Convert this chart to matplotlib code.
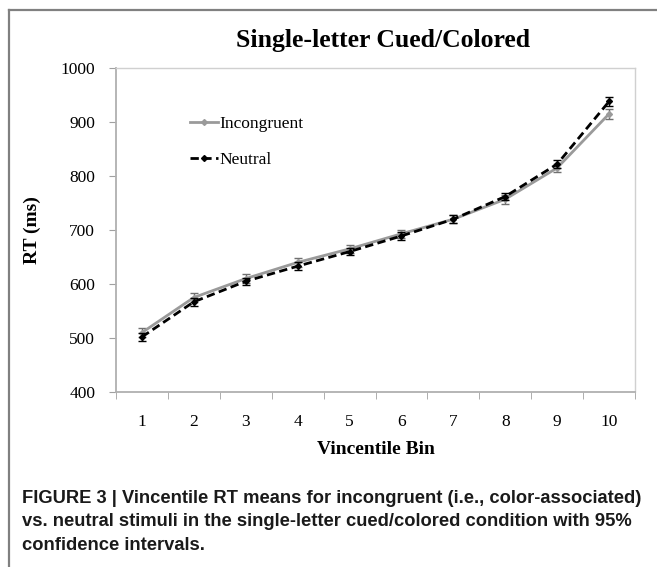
import matplotlib.pyplot as plt
from matplotlib.lines import Line2D

bins = [1, 2, 3, 4, 5, 6, 7, 8, 9, 10]
incongruent = [510, 575, 610, 640, 665, 693, 720, 757, 815, 915]
incongruent_ci = [8, 9, 8, 8, 8, 7, 7, 8, 8, 9]
neutral = [502, 567, 605, 633, 660, 689, 720, 762, 822, 938]
neutral_ci = [8, 8, 7, 7, 7, 7, 7, 7, 7, 8]
yticks = [400, 500, 600, 700, 800, 900, 1000]

W, H = 657, 567
fig = plt.figure(figsize=(W / 100, H / 100), dpi=100)
serif = 'Liberation Serif'

# outer frame of the screenshot (top and left only)
fig.add_artist(Line2D([9 / W, 1], [1 - 10 / H, 1 - 10 / H], color='#808080', lw=1.6))
fig.add_artist(Line2D([9 / W, 9 / W], [0, 1 - 10 / H], color='#808080', lw=1.6))

ax = fig.add_axes([116 / W, 175 / H, 519 / W, 324 / H])

inc_style = dict(color='#9a9a9a', lw=2, marker='D', ms=3)
neu_style = dict(color='black', lw=2, ls=(0, (3, 1.6)), marker='D', ms=3)

ax.errorbar(bins, incongruent, yerr=incongruent_ci, capsize=3, elinewidth=1,
            capthick=1, ecolor='#707070', zorder=2, **inc_style)
ax.errorbar(bins, neutral, yerr=neutral_ci, capsize=3, elinewidth=1,
            capthick=1, ecolor='black', zorder=3, **neu_style)

ax.set_xlim(0.5, 10.5)
ax.set_ylim(400, 1000)
ax.set_yticks(yticks)
ax.set_xticks(bins)
ax.set_xticks([b + 0.5 for b in [0] + bins], minor=True)
ax.tick_params(axis='x', which='major', length=0, pad=16)
ax.tick_params(axis='x', which='minor', length=5, color='#a0a0a0', direction='out')
ax.tick_params(axis='y', length=5, color='#a0a0a0', pad=10)
for lab in ax.get_xticklabels() + ax.get_yticklabels():
    lab.set_fontfamily(serif)
    lab.set_fontsize(12.5)
for s in ax.spines.values():
    s.set_color('#b0b0b0')
    s.set_linewidth(1.3)
for s in ['top', 'right']:
    ax.spines[s].set_color('#d0d0d0')
    ax.spines[s].set_linewidth(1.0)

ax.set_xlabel('Vincentile Bin', fontfamily=serif, fontweight='bold', fontsize=14, labelpad=8)
ax.set_ylabel('RT (ms)', fontfamily=serif, fontweight='bold', fontsize=14, labelpad=14)

fig.text(383 / W, 1 - 41 / H, 'Single-letter Cued/Colored', ha='center', va='center',
         fontfamily=serif, fontweight='bold', fontsize=18.5)

handles = [Line2D([], [], **inc_style), Line2D([], [], **neu_style)]
ax.legend(handles, ['Incongruent', 'Neutral'], loc='upper left',
          bbox_to_anchor=(0.112, 0.9), frameon=False,
          prop={'family': serif, 'size': 12.5}, handlelength=1.6,
          handletextpad=0.1, labelspacing=1.15)

caption = ('FIGURE 3 | Vincentile RT means for incongruent (i.e., color-associated)\n'
           'vs. neutral stimuli in the single-letter cued/colored condition with 95%\n'
           'confidence intervals.')
fig.text(22 / W, 1 - 490 / H, caption, ha='left', va='top', fontfamily='Liberation Sans',
         fontweight='bold', fontsize=13.2, linespacing=1.5, color='#1a1a1a')

fig.savefig('out.png', dpi=100)
